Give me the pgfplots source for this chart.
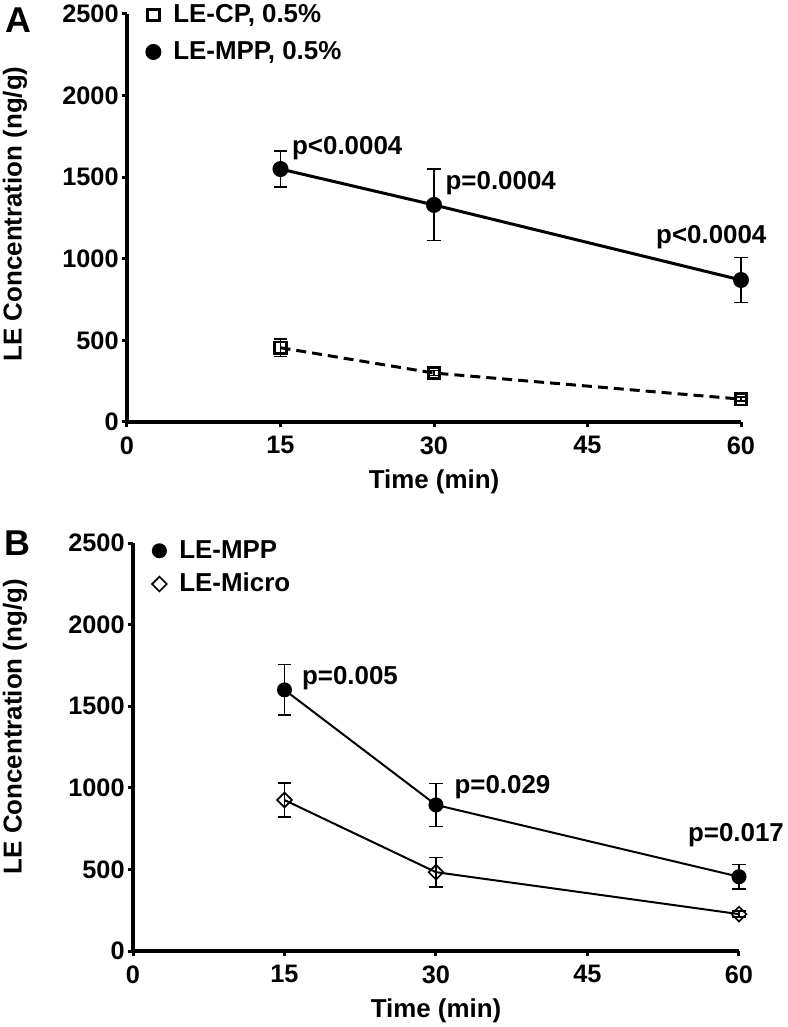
\documentclass[border=0pt]{standalone}
\usepackage{fontspec}
\setmainfont{Liberation Sans}
\usepackage{pgfplots}
\pgfplotsset{compat=1.18}
\newcommand{\tf}{\fontsize{13}{15}\selectfont\bfseries}
\newcommand{\kf}{\fontsize{12.7}{14}\selectfont\bfseries}
\begin{document}
\bfseries
\begin{tikzpicture}
\path[use as bounding box] (0,0) rectangle (394bp,513.5bp);
\pgfplotsset{
 common/.style={
  scale only axis, height=204bp,
  xmin=0, xmax=60, ymin=0, ymax=2500,
  axis lines=left, axis line style={line width=1.8bp,-},
  xtick={0,15,30,45,60}, ytick={0,500,1000,1500,2000,2500},
  tick align=outside, major tick length=2.5bp,
  every tick/.style={line width=1.5bp,black},
  /pgf/number format/assume math mode=true,
  /pgf/number format/1000 sep={},
  tick label style={font=\kf},
  yticklabel style={inner sep=1bp, xshift=-0.5bp},
  xticklabel style={inner sep=1bp, yshift=-3.5bp},
  xlabel={Time (min)},
  ylabel={LE Concentration (ng/g)},
  every axis x label/.style={at={(rel axis cs:0.5,0)}, anchor=center, yshift=-30bp, font=\tf},
  legend style={draw=none, fill=none, font=\tf, legend cell align=left, inner sep=0pt,
     anchor=north west},
  legend image code/.code={\draw[#1] plot coordinates {(0bp,0bp)}; \path[draw=none,fill=none] (-4bp,-1bp) rectangle (8bp,1bp);},
  clip=false,
 },
 eb/.style={error bars/.cd, y dir=both, y explicit,
   error bar style={solid, line width=0.75bp},
   error mark options={rotate=90, mark size=3.3bp, line width=0.75bp, solid}},
}
\begin{axis}[common, width=307bp, at={(63.5bp,302.5bp)}, anchor=south west,
  every axis y label/.style={at={(rel axis cs:0,0.51)}, xshift=-56bp, rotate=90, anchor=center, font=\tf},
  legend style={at={(rel axis cs:0,1)}, xshift=9bp, yshift=7bp, row sep=4bp}]
\addplot[black, line width=1.5bp, dash pattern=on 5bp off 3bp, mark=square, mark size=2.9bp,
  mark options={solid, line width=1.4bp}, eb] coordinates {
  (15,455) +- (0,55)
  (30,300) +- (0,15)
  (60,140) +- (0,12)
};
\addlegendentry{LE-CP, 0.5\%}
\addplot[black, line width=1.5bp, mark=*, mark size=3.25bp, eb] coordinates {
  (15,1550) +- (0,110)
  (30,1330) +- (0,219)
  (60,870) +- (0,137)
};
\addlegendentry{LE-MPP, 0.5\%}
\node[anchor=west, font=\tf, inner sep=0pt] at (axis cs:16.1,1679) {p<0.0004};
\node[anchor=west, font=\tf, inner sep=0pt] at (axis cs:31.1,1464) {p=0.0004};
\node[anchor=center, font=\tf, inner sep=0pt] at (axis cs:57.1,1135) {p<0.0004};
\end{axis}
\begin{axis}[common, width=303bp, at={(66.5bp,38bp)}, anchor=south west,
  every axis y label/.style={at={(rel axis cs:0,0.55)}, xshift=-59bp, rotate=90, anchor=center, font=\tf},
  legend style={at={(rel axis cs:0,1)}, xshift=9bp, yshift=3.5bp, row sep=2bp}]
\addplot[black, line width=1bp, mark=*, mark size=3.25bp, eb] coordinates {
  (15,1600) +- (0,155)
  (30,895) +- (0,131)
  (60,455) +- (0,74)
};
\addlegendentry{LE-MPP}
\addplot[black, line width=1bp, mark=square, mark size=2.6bp,
  mark options={rotate=45, line width=0.85bp, fill=white}, eb] coordinates {
  (15,925) +- (0,103)
  (30,483) +- (0,91)
  (60,226) +- (0,18)
};
\addlegendentry{LE-Micro}
\node[anchor=west, font=\tf, inner sep=0pt] at (axis cs:16.7,1673) {p=0.005};
\node[anchor=west, font=\tf, inner sep=0pt] at (axis cs:31.8,1006) {p=0.029};
\node[anchor=center, font=\tf, inner sep=0pt] at (axis cs:59.7,711) {p=0.017};
\end{axis}
\node[font=\fontsize{18}{20}\selectfont\bfseries] at (9bp,503.5bp) {A};
\node[font=\fontsize{18}{20}\selectfont\bfseries] at (8.5bp,242bp) {B};
\end{tikzpicture}
\end{document}
